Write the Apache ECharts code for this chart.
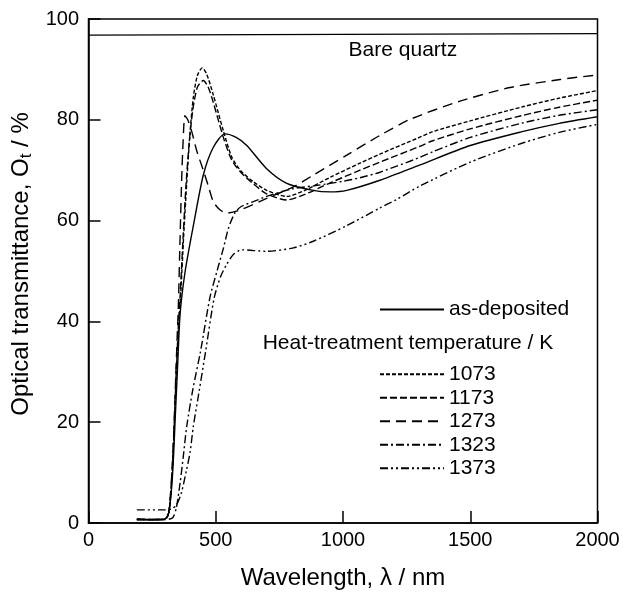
<!DOCTYPE html>
<html>
<head>
<meta charset="utf-8">
<script src="https://cdn.jsdelivr.net/npm/echarts@6/dist/echarts.min.js"></script>
<style>html,body{margin:0;padding:0;background:#fff;}#c{width:623px;height:595px;}</style>
</head>
<body>
<div id="c"></div>
<script>
// ---- data (wavelength nm, transmittance %) ----
var quartzWl = [0, 2000];
var quartzT  = [96.8, 97.1];

var asDepWl = [190,250,300,315,325,333,340,350,360,380,412,451,490,536,580,622,700,779,883,950,1015,1145,1300,1500,1700,1850,2000];
var asDepT  = [0.8,0.6,0.8,2,6,12,20,31,41.5,50,59,69,74.5,77.2,76.5,74.9,70.3,67.4,66.0,65.7,66.0,68.0,71.0,74.9,77.6,79.3,80.6];

var k1073Wl = [190,300,315,325,335,345,353,362,374,386,399,412,428,447,465,490,530,563,600,648,700,779,850,950,1067,1145,1300,1350,1500,1700,1850,2000];
var k1073T  = [0.7,0.7,2,7,17,30,38,45,57,67.5,77.5,84.5,88.8,90.3,89,85,77.8,72.6,69.8,67.7,66,64.8,66,68.6,71.4,73.2,76.5,77.6,79.8,82.5,84.3,85.8];

var k1173Wl = [190,300,315,325,335,345,353,360,372,383,395,410,428,451,470,490,530,563,600,648,700,779,850,950,1067,1145,1300,1350,1500,1700,1850,2000];
var k1173T  = [0.7,0.7,2,7,17,30,39,45,57,67,75,82,86.5,87.8,86.5,83.5,76.5,72,69.5,67.3,65.3,64.1,65.2,67.5,70.0,71.6,74.7,75.8,78.2,80.8,82.5,83.9];

var k1273Wl = [190,300,315,330,340,347,353,360,366,372,379,390,405,425,451,470,490,515,543,595,700,805,883,1015,1145,1264,1460,1656,1853,2000];
var k1273T  = [0.7,0.7,2,12,25,35,43,57,68,76,80.8,80,77.8,73.9,70,67,63.8,62.2,61.5,62.1,64.4,66.7,69.0,73.0,76.9,80.1,83.7,86.4,88.0,88.9];

var k1323Wl = [190,300,330,345,360,372,386,410,440,477,505,530,550,575,600,650,700,800,900,1000,1067,1145,1300,1350,1500,1700,1850,2000];
var k1323T  = [0.7,0.7,1,3,8,13,19.2,26.5,34,44.7,50,54.5,58.5,61.5,62.8,63.8,64.8,66.3,67.0,67.8,68.5,69.6,72.5,73.6,76.5,79.3,80.9,82.0];

var k1373Wl = [190,300,325,345,365,385,399,412,431,460,494,520,543,570,602,700,805,883,1015,1145,1211,1300,1500,1700,1850,2000];
var k1373T  = [2.6,2.6,2.8,3.5,6,10.5,14,19.2,25,34,44.7,49,51.3,53.3,54.2,53.9,54.6,55.9,59,62.5,64.2,66.8,71.6,75.3,77.5,79.1];

var xTicks = [0, 500, 1000, 1500, 2000];
var yTicks = [0, 20, 40, 60, 80, 100];

function pairs(a, b) { return a.map(function (v, i) { return [v, b[i]]; }); }

var FONT = 'Liberation Sans, Arial, sans-serif';
var series = [
  {name: 'Bare quartz', wl: quartzWl, t: quartzT, dash: 'solid'},
  {name: 'as-deposited', wl: asDepWl, t: asDepT, dash: 'solid'},
  {name: '1073', wl: k1073Wl, t: k1073T, dash: [4, 2]},
  {name: '1173', wl: k1173Wl, t: k1173T, dash: [7, 3]},
  {name: '1273', wl: k1273Wl, t: k1273T, dash: [10, 6]},
  {name: '1323', wl: k1323Wl, t: k1323T, dash: [8, 3, 2, 3]},
  {name: '1373', wl: k1373Wl, t: k1373T, dash: [8, 3, 2, 3, 2, 3]}
].map(function (s) {
  return {
    name: s.name, type: 'line', data: pairs(s.wl, s.t), symbol: 'none', smooth: 0.25,
    lineStyle: {color: '#000', width: 1.4, type: s.dash}, itemStyle: {color: '#000'}
  };
});

var legendCommon = {
  orient: 'vertical', left: 379, padding: 0, itemWidth: 64, itemHeight: 14, itemGap: 2.5,
  itemStyle: {opacity: 0, borderWidth: 0},
  textStyle: {fontSize: 21, color: '#000', fontFamily: FONT}, selectedMode: false
};

var chart = echarts.init(document.getElementById('c'), null, {renderer: 'canvas'});
chart.setOption({
  animation: false,
  backgroundColor: '#fff',
  grid: {left: 88.5, right: 25.5, top: 19, bottom: 67.5, show: true, borderColor: '#000', borderWidth: 1.5, backgroundColor: 'transparent'},
  xAxis: {
    type: 'value', min: xTicks[0], max: xTicks[xTicks.length - 1], interval: 500,
    name: 'Wavelength, \u03bb / nm', nameLocation: 'middle', nameGap: 43,
    nameTextStyle: {fontSize: 24, color: '#000', fontFamily: FONT},
    axisLine: {lineStyle: {color: '#000', width: 1.5}},
    axisTick: {inside: true, length: 12, lineStyle: {color: '#000', width: 1.5}},
    axisLabel: {fontSize: 20, color: '#000', fontFamily: FONT, margin: 7, formatter: function (v) { return String(v); }},
    splitLine: {show: false}
  },
  yAxis: {
    type: 'value', min: yTicks[0], max: yTicks[yTicks.length - 1], interval: 20,
    name: '{a|Optical transmittance, O}{c|t}{a| / %}', nameLocation: 'middle', nameGap: 50,
    nameTextStyle: {color: '#000', fontFamily: FONT, padding: [0, 0, 0, 14], rich: {
      a: {fontSize: 24, color: '#000', fontFamily: FONT},
      c: {fontSize: 17, color: '#000', fontFamily: FONT, padding: [10, 0, 0, 0], verticalAlign: 'bottom'}
    }},
    axisLine: {lineStyle: {color: '#000', width: 1.5}},
    axisTick: {inside: true, length: 12, lineStyle: {color: '#000', width: 1.5}},
    axisLabel: {fontSize: 20, color: '#000', fontFamily: FONT, margin: 9.5},
    splitLine: {show: false}
  },
  legend: [
    Object.assign({data: ['as-deposited'], top: 299}, legendCommon),
    Object.assign({data: ['1073', '1173', '1273', '1323', '1373'], top: 363.8}, legendCommon)
  ],
  graphic: [
    {type: 'text', left: 348.6, top: 40, style: {text: 'Bare quartz', fontSize: 21, fill: '#000', fontFamily: FONT}},
    {type: 'text', right: 623 - 553.3, top: 332.8, style: {text: 'Heat-treatment temperature / K', fontSize: 21, fill: '#000', fontFamily: FONT}}
  ],
  series: series
});
</script>
</body>
</html>
